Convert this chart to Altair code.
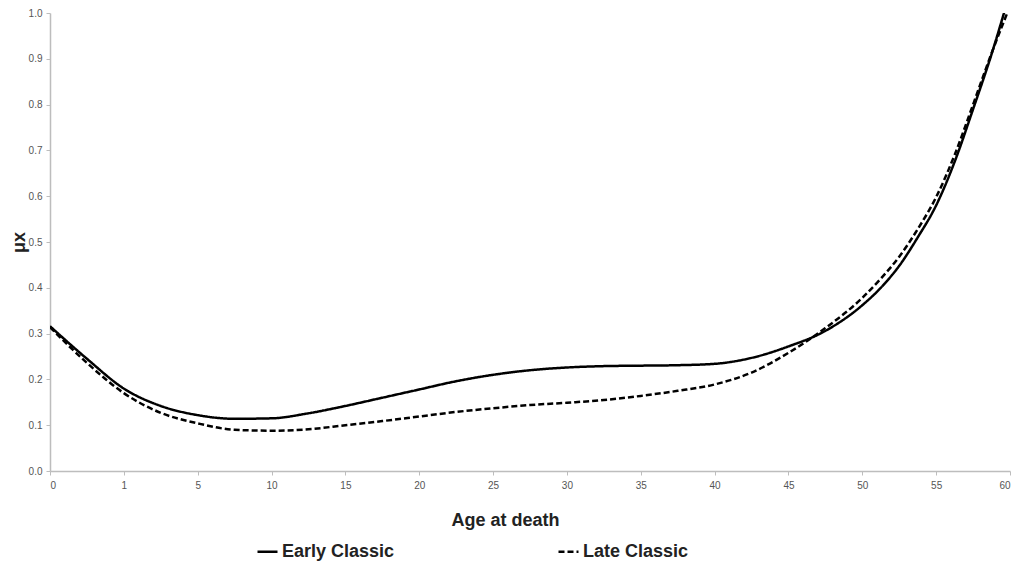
import altair as alt
import pandas as pd

# Category axis labels (equally spaced categories, as in the source)
age_labels = ["0", "1", "5", "10", "15", "20", "25", "30", "35", "40", "45", "50", "55", "60"]

# Positions along the category axis (category index)
positions = [0, 0.5, 1, 1.5, 2, 2.5, 3, 3.5, 4, 4.5, 5, 5.5, 6, 6.5, 7, 7.5,
             8, 8.5, 9, 9.5, 10, 10.5, 11, 11.25, 11.5, 11.75, 12, 12.25, 12.5, 12.75, 13]

early_classic = [0.316, 0.245, 0.180, 0.142, 0.122, 0.114, 0.115, 0.126, 0.142,
                 0.160, 0.178, 0.196, 0.210, 0.220, 0.226, 0.229, 0.230, 0.231,
                 0.234, 0.247, 0.272, 0.306, 0.362, 0.400, 0.448, 0.510, 0.580,
                 0.675, 0.790, 0.910, 1.045]

late_classic = [0.314, 0.236, 0.170, 0.127, 0.104, 0.090, 0.088, 0.091, 0.100,
                0.109, 0.119, 0.129, 0.137, 0.144, 0.149, 0.155, 0.164, 0.175,
                0.189, 0.215, 0.258, 0.312, 0.378, 0.420, 0.468, 0.528, 0.598,
                0.690, 0.800, 0.912, 1.015]

y_ticks = [0.0, 0.1, 0.2, 0.3, 0.4, 0.5, 0.6, 0.7, 0.8, 0.9, 1.0]

rows = []
for p, e, l in zip(positions, early_classic, late_classic):
    rows.append({"pos": p, "mu": e, "series": "Early Classic"})
    rows.append({"pos": p, "mu": l, "series": "Late Classic"})
df = pd.DataFrame(rows)

label_expr = "[" + ",".join("'" + a + "'" for a in age_labels) + "][datum.value]"

FONT = "Liberation Sans"

chart = alt.Chart(df).mark_line(
    interpolate="monotone", strokeWidth=2.5, color="black", clip=True
).encode(
    x=alt.X(
        "pos:Q",
        scale=alt.Scale(domain=[0, 13], nice=False, zero=False),
        axis=alt.Axis(
            values=list(range(len(age_labels))),
            labelExpr=label_expr,
            title="Age at death",
            titleX=455,
            titleY=54,
            titleBaseline="alphabetic",
            grid=False,
            labelPadding=5,
        ),
    ),
    y=alt.Y(
        "mu:Q",
        scale=alt.Scale(domain=[0, 1], nice=False),
        axis=alt.Axis(
            values=y_ticks,
            format=".1f",
            title="μx",
            titleAngle=270,
            titleX=-26,
            titleY=229,
            titleAlign="center",
            titleBaseline="alphabetic",
            grid=False,
            labelPadding=4,
        ),
    ),
    strokeDash=alt.StrokeDash(
        "series:N",
        scale=alt.Scale(domain=["Early Classic", "Late Classic"], range=[[1, 0], [6, 3]]),
        legend=alt.Legend(
            title=None,
            orient="none",
            direction="horizontal",
            legendX=206,
            legendY=527,
            symbolType="stroke",
            symbolSize=400,
            symbolStrokeWidth=2.5,
            symbolStrokeColor="black",
            labelFont=FONT,
            labelFontSize=18,
            labelFontWeight="bold",
            labelColor="#222222",
            labelOffset=3,
            columnPadding=158,
        ),
    ),
).properties(
    width=960,
    height=458,
    autosize=alt.AutoSizeParams(type="none"),
    padding={"left": 42, "top": 5, "right": 6, "bottom": 91},
).configure_view(
    stroke=None
).configure_axis(
    domainColor="#bdbdbd",
    domainWidth=1.5,
    tickColor="#bdbdbd",
    tickSize=4,
    tickWidth=1,
    labelColor="#555555",
    labelFont=FONT,
    labelFontSize=10,
    titleFont=FONT,
    titleFontSize=18,
    titleFontWeight="bold",
    titleColor="#222222",
)

chart.save("out.html", embed_options={"renderer": "svg", "actions": False})
